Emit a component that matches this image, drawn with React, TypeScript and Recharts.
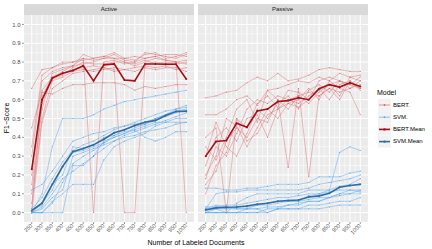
import React from 'react';
import { LineChart, Line, XAxis, YAxis, CartesianGrid } from 'recharts';

const DOCS = [250, 300, 350, 400, 450, 500, 550, 600, 650, 700, 750, 800, 850, 900, 950, 1000];
const Y_TICKS = [0, 0.1, 0.2, 0.3, 0.4, 0.5, 0.6, 0.7, 0.8, 0.9, 1.0];
const X_MINOR = [275, 325, 375, 425, 475, 525, 575, 625, 675, 725, 775, 825, 875, 925, 975];
const Y_MINOR = [0.05, 0.15, 0.25, 0.35, 0.45, 0.55, 0.65, 0.75, 0.85, 0.95];

const ACTIVE_BERT = [
  [0.66, 0.76, 0.77, 0.79, 0.80, 0.82, 0.81, 0.82, 0.84, 0.81, 0.80, 0.85, 0.84, 0.83, 0.82, 0.84],
  [0.45, 0.64, 0.63, 0.66, 0.68, 0.68, 0.69, 0.69, 0.69, 0.68, 0.65, 0.67, 0.66, 0.67, 0.68, 0.68],
  [0.30, 0.70, 0.75, 0.77, 0.78, 0.82, 0.00, 0.80, 0.81, 0.79, 0.80, 0.82, 0.83, 0.81, 0.80, 0.81],
  [0.20, 0.65, 0.72, 0.74, 0.76, 0.77, 0.78, 0.77, 0.76, 0.00, 0.00, 0.79, 0.80, 0.79, 0.80, 0.79],
  [0.10, 0.55, 0.74, 0.76, 0.78, 0.79, 0.80, 0.82, 0.82, 0.80, 0.78, 0.80, 0.82, 0.81, 0.80, 0.00],
  [0.05, 0.50, 0.70, 0.72, 0.75, 0.76, 0.75, 0.76, 0.77, 0.76, 0.77, 0.78, 0.77, 0.78, 0.76, 0.77],
  [0.02, 0.62, 0.72, 0.75, 0.78, 0.84, 0.82, 0.83, 0.85, 0.82, 0.81, 0.84, 0.85, 0.82, 0.83, 0.85],
  [0.15, 0.58, 0.71, 0.73, 0.77, 0.80, 0.79, 0.79, 0.80, 0.80, 0.79, 0.81, 0.79, 0.80, 0.79, 0.80],
  [0.35, 0.73, 0.77, 0.80, 0.80, 0.81, 0.82, 0.83, 0.82, 0.82, 0.83, 0.82, 0.83, 0.84, 0.84, 0.83],
  [0.00, 0.48, 0.66, 0.70, 0.74, 0.75, 0.76, 0.77, 0.75, 0.76, 0.75, 0.77, 0.76, 0.77, 0.77, 0.75],
];

const ACTIVE_SVM = [
  [0.00, 0.10, 0.35, 0.50, 0.50, 0.50, 0.52, 0.55, 0.57, 0.59, 0.60, 0.61, 0.62, 0.63, 0.64, 0.65],
  [0.12, 0.15, 0.22, 0.30, 0.38, 0.40, 0.42, 0.43, 0.45, 0.46, 0.48, 0.50, 0.52, 0.54, 0.55, 0.57],
  [0.00, 0.00, 0.00, 0.00, 0.25, 0.25, 0.30, 0.38, 0.40, 0.42, 0.45, 0.47, 0.50, 0.52, 0.55, 0.56],
  [0.02, 0.08, 0.18, 0.27, 0.33, 0.36, 0.38, 0.41, 0.44, 0.46, 0.47, 0.48, 0.50, 0.52, 0.54, 0.55],
  [0.00, 0.03, 0.10, 0.18, 0.22, 0.26, 0.30, 0.34, 0.38, 0.40, 0.41, 0.43, 0.44, 0.45, 0.47, 0.48],
  [0.01, 0.04, 0.15, 0.20, 0.35, 0.34, 0.36, 0.40, 0.41, 0.43, 0.44, 0.40, 0.38, 0.40, 0.43, 0.43],
  [0.00, 0.00, 0.06, 0.10, 0.15, 0.15, 0.15, 0.28, 0.35, 0.38, 0.40, 0.42, 0.46, 0.48, 0.50, 0.50],
  [0.00, 0.02, 0.08, 0.12, 0.30, 0.32, 0.34, 0.36, 0.38, 0.41, 0.43, 0.45, 0.47, 0.49, 0.51, 0.53],
  [0.00, 0.05, 0.12, 0.25, 0.32, 0.33, 0.35, 0.37, 0.40, 0.42, 0.44, 0.46, 0.48, 0.48, 0.48, 0.48],
  [0.00, 0.00, 0.05, 0.16, 0.26, 0.30, 0.33, 0.37, 0.41, 0.44, 0.46, 0.47, 0.49, 0.51, 0.53, 0.54],
];

const ACTIVE_BERT_MEAN = [0.23, 0.60, 0.715, 0.74, 0.755, 0.78, 0.70, 0.785, 0.79, 0.705, 0.70, 0.79, 0.79, 0.788, 0.788, 0.71];
const ACTIVE_SVM_MEAN = [0.01, 0.05, 0.15, 0.245, 0.324, 0.34, 0.36, 0.39, 0.424, 0.44, 0.463, 0.48, 0.49, 0.516, 0.537, 0.539];

const PASSIVE_BERT = [
  [0.61, 0.62, 0.64, 0.65, 0.69, 0.72, 0.70, 0.74, 0.70, 0.71, 0.73, 0.76, 0.77, 0.76, 0.75, 0.75],
  [0.52, 0.52, 0.55, 0.60, 0.62, 0.57, 0.65, 0.66, 0.68, 0.70, 0.69, 0.72, 0.70, 0.74, 0.72, 0.73],
  [0.40, 0.45, 0.00, 0.50, 0.45, 0.58, 0.62, 0.56, 0.65, 0.64, 0.60, 0.70, 0.72, 0.70, 0.68, 0.72],
  [0.35, 0.28, 0.40, 0.55, 0.60, 0.48, 0.65, 0.60, 0.24, 0.66, 0.19, 0.62, 0.66, 0.60, 0.70, 0.65],
  [0.30, 0.48, 0.35, 0.30, 0.42, 0.55, 0.50, 0.58, 0.62, 0.55, 0.65, 0.68, 0.64, 0.70, 0.66, 0.68],
  [0.25, 0.40, 0.45, 0.38, 0.50, 0.52, 0.40, 0.55, 0.60, 0.62, 0.58, 0.64, 0.68, 0.62, 0.72, 0.70],
  [0.20, 0.30, 0.50, 0.46, 0.35, 0.45, 0.55, 0.50, 0.58, 0.60, 0.66, 0.60, 0.70, 0.66, 0.64, 0.52],
  [0.18, 0.35, 0.30, 0.42, 0.55, 0.60, 0.58, 0.62, 0.60, 0.58, 0.62, 0.66, 0.60, 0.68, 0.70, 0.66],
  [0.15, 0.22, 0.38, 0.45, 0.40, 0.50, 0.48, 0.60, 0.55, 0.62, 0.64, 0.62, 0.66, 0.64, 0.66, 0.70],
  [0.10, 0.25, 0.32, 0.50, 0.38, 0.42, 0.52, 0.55, 0.58, 0.56, 0.60, 0.65, 0.68, 0.70, 0.68, 0.66],
];

const PASSIVE_SVM = [
  [0.13, 0.13, 0.12, 0.12, 0.13, 0.13, 0.14, 0.15, 0.15, 0.15, 0.16, 0.19, 0.19, 0.19, 0.21, 0.22],
  [0.02, 0.10, 0.11, 0.11, 0.12, 0.12, 0.12, 0.12, 0.12, 0.12, 0.13, 0.15, 0.16, 0.17, 0.18, 0.20],
  [0.00, 0.02, 0.00, 0.05, 0.08, 0.10, 0.10, 0.10, 0.10, 0.10, 0.12, 0.12, 0.12, 0.32, 0.35, 0.33],
  [0.01, 0.03, 0.04, 0.04, 0.05, 0.06, 0.07, 0.08, 0.08, 0.09, 0.10, 0.10, 0.12, 0.14, 0.15, 0.18],
  [0.02, 0.04, 0.03, 0.02, 0.02, 0.04, 0.05, 0.06, 0.06, 0.06, 0.09, 0.10, 0.11, 0.12, 0.12, 0.12],
  [0.00, 0.00, 0.00, 0.00, 0.02, 0.02, 0.00, 0.02, 0.04, 0.04, 0.06, 0.06, 0.08, 0.10, 0.12, 0.11],
  [0.01, 0.02, 0.02, 0.02, 0.02, 0.02, 0.03, 0.03, 0.04, 0.05, 0.06, 0.06, 0.08, 0.10, 0.10, 0.10],
  [0.00, 0.00, 0.00, 0.00, 0.00, 0.00, 0.02, 0.02, 0.02, 0.02, 0.04, 0.04, 0.05, 0.06, 0.06, 0.08],
  [0.03, 0.03, 0.02, 0.03, 0.03, 0.04, 0.04, 0.05, 0.06, 0.06, 0.07, 0.08, 0.08, 0.09, 0.10, 0.12],
  [0.00, 0.00, 0.00, 0.00, 0.00, 0.00, 0.00, 0.02, 0.02, 0.02, 0.02, 0.02, 0.03, 0.04, 0.04, 0.04],
];

const PASSIVE_BERT_MEAN = [0.30, 0.378, 0.383, 0.475, 0.454, 0.54, 0.55, 0.59, 0.595, 0.61, 0.60, 0.658, 0.68, 0.667, 0.69, 0.67];
const PASSIVE_SVM_MEAN = [0.015, 0.025, 0.028, 0.03, 0.035, 0.044, 0.05, 0.06, 0.064, 0.067, 0.083, 0.089, 0.103, 0.135, 0.144, 0.15];

const MODELS = ['BERT.', 'SVM.', 'BERT.Mean', 'SVM.Mean'];
const C_BERT = '#D9656B';
const C_SVM = '#56A9F0';
const C_BERT_MEAN = '#A50F15';
const C_SVM_MEAN = '#2F6CA3';
const MODEL_COLORS = [C_BERT, C_SVM, C_BERT_MEAN, C_SVM_MEAN];

const FONT = '"Liberation Sans", Arial, sans-serif';

const XTick = (props: any) => {
  const { x, y, payload } = props;
  return (
    <text
      x={x}
      y={y}
      transform={`rotate(-45 ${x} ${y})`}
      textAnchor="end"
      dominantBaseline="middle"
      fontSize={5.5}
      fill="#4D4D4D"
      fontFamily={FONT}
    >
      {payload.value}
    </text>
  );
};

interface PanelProps {
  bert: number[][];
  svm: number[][];
  bertMean: number[];
  svmMean: number[];
  showY: boolean;
}

const Panel: React.FC<PanelProps> = ({ bert, svm, bertMean, svmMean, showY }) => {
  const data = DOCS.map((n, i) => {
    const row: Record<string, number> = { n };
    bert.forEach((r, k) => (row[`b${k}`] = r[i]));
    svm.forEach((r, k) => (row[`s${k}`] = r[i]));
    row.bm = bertMean[i];
    row.sm = svmMean[i];
    return row;
  });

  return (
    <LineChart width={showY ? 194 : 170} height={234} data={data} margin={{ top: 0, right: 0, left: 0, bottom: 0 }}>
      <CartesianGrid fill="#EBEBEB" stroke="#FFFFFF" strokeWidth={0.5} verticalValues={X_MINOR} horizontalValues={Y_MINOR} />
      <CartesianGrid fill="none" stroke="#FFFFFF" strokeWidth={1} verticalValues={DOCS} horizontalValues={Y_TICKS} />
      <XAxis
        dataKey="n"
        type="number"
        domain={[212.5, 1037.5]}
        ticks={DOCS}
        interval={0}
        allowDataOverflow
        height={27}
        axisLine={false}
        tickSize={2}
        tickLine={{ stroke: '#333333', strokeWidth: 0.5 }}
        tick={<XTick />}
        tickMargin={1}
      />
      <YAxis
        type="number"
        domain={[-0.05, 1.05]}
        ticks={Y_TICKS}
        interval={0}
        allowDataOverflow
        hide={!showY}
        width={24}
        axisLine={false}
        tickSize={2}
        tickMargin={1.5}
        tickLine={{ stroke: '#333333', strokeWidth: 0.5 }}
        tick={{ fontSize: 6, fill: '#4D4D4D', fontFamily: FONT }}
        tickFormatter={(v: number) => v.toFixed(1)}
      />
      {bert.map((_, k) => (
        <Line key={`b${k}`} dataKey={`b${k}`} stroke={C_BERT} strokeOpacity={0.7} strokeWidth={0.6}
          dot={{ r: 0.6, fill: C_BERT, stroke: 'none', fillOpacity: 0.8 }} isAnimationActive={false} />
      ))}
      {svm.map((_, k) => (
        <Line key={`s${k}`} dataKey={`s${k}`} stroke={C_SVM} strokeOpacity={0.8} strokeWidth={0.6}
          dot={{ r: 0.6, fill: C_SVM, stroke: 'none' }} isAnimationActive={false} />
      ))}
      <Line dataKey="bm" stroke={C_BERT_MEAN} strokeWidth={1.6}
        dot={{ r: 1, fill: C_BERT_MEAN, stroke: 'none' }} isAnimationActive={false} />
      <Line dataKey="sm" stroke={C_SVM_MEAN} strokeWidth={1.6}
        dot={{ r: 1, fill: C_SVM_MEAN, stroke: 'none' }} isAnimationActive={false} />
    </LineChart>
  );
};

const Strip: React.FC<{ label: string; left: number }> = ({ label, left }) => (
  <div style={{
    position: 'absolute', left, top: 4, width: 170, height: 11, background: '#D9D9D9',
    color: '#1A1A1A', fontSize: 6, lineHeight: '11px', textAlign: 'center', fontFamily: FONT,
  }}>{label}</div>
);

export default function App() {
  return (
    <div style={{ position: 'absolute', left: 0, top: 0, width: 432, height: 249, background: '#FFFFFF', fontFamily: FONT }}>
      <Strip label="Active" left={24} />
      <Strip label="Passive" left={197.5} />
      <div style={{ position: 'absolute', left: 0, top: 15 }}>
        <Panel bert={ACTIVE_BERT} svm={ACTIVE_SVM} bertMean={ACTIVE_BERT_MEAN} svmMean={ACTIVE_SVM_MEAN} showY />
      </div>
      <div style={{ position: 'absolute', left: 197.5, top: 15 }}>
        <Panel bert={PASSIVE_BERT} svm={PASSIVE_SVM} bertMean={PASSIVE_BERT_MEAN} svmMean={PASSIVE_SVM_MEAN} showY={false} />
      </div>
      <svg style={{ position: 'absolute', left: 0, top: 0 }} width={432} height={249}>
        <text x={7} y={118} transform="rotate(-90 7 118)" textAnchor="middle" dominantBaseline="middle"
          fontSize={7} fill="#000000" fontFamily={FONT}>F1−Score</text>
        <text x={196} y={243} textAnchor="middle" dominantBaseline="middle" fontSize={7} fill="#000000"
          fontFamily={FONT}>Number of Labeled Documents</text>
        <text x={377} y={93} dominantBaseline="middle" fontSize={7} fill="#000000" fontFamily={FONT}>Model</text>
        {MODELS.map((m, i) => {
          const cy = 105 + i * 12.2;
          const mean = i >= 2;
          return (
            <g key={m}>
              <rect x={378} y={cy - 6} width={13} height={12} fill="#F2F2F2" />
              <line x1={379} x2={390} y1={cy} y2={cy} stroke={MODEL_COLORS[i]} strokeWidth={mean ? 1.6 : 0.8}
                strokeOpacity={mean ? 1 : 0.8} />
              <circle cx={384.5} cy={cy} r={mean ? 1.2 : 0.9} fill={MODEL_COLORS[i]} />
              <text x={393} y={cy} dominantBaseline="middle" fontSize={6} fill="#000000" fontFamily={FONT}>{m}</text>
            </g>
          );
        })}
      </svg>
    </div>
  );
}
